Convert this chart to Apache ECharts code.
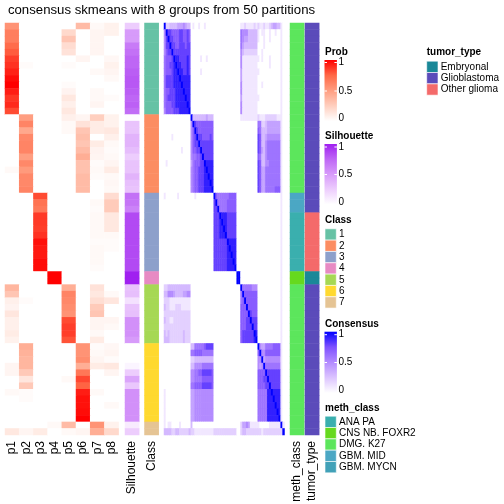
<!DOCTYPE html>
<html><head><meta charset="utf-8">
<script src="https://cdn.jsdelivr.net/npm/echarts@6/dist/echarts.min.js"></script>
<style>html,body{margin:0;padding:0;background:#fff}#c{width:504px;height:504px}</style>
</head><body><div id="c"></div>
<script>
const FONT = '"Liberation Sans", Arial, Helvetica, sans-serif';
const titleText = 'consensus skmeans with 8 groups from 50 partitions';
const probLabels = ['p1','p2','p3','p4','p5','p6','p7','p8'];

// membership probabilities per column (63 samples, top to bottom)
const p1 = [.55,.65,.65,.73,.78,.85,.88,.92,.97,1,.93,.87,.9,.82, 0,0,0,0,0,0,0,0,.03,0,0,0, 0,0,0,0,0,0,0,0,0,0,0,0, 0,0, .38,.3,.08,.06,.13,.08,.08,.1,.07, 0,0,0,.05,.05,0,0,.03,0,0,0,0, 0,.12];
const p2 = [0,0,0,0,0,0,.02,0,0,0,0,0,0,0, .5,.62,.45,.6,.62,.62,.5,.6,.52,.6,.6,.62, 0,0,0,0,0,0,0,0,0,0,0,0, 0,0, 0,0,.02,0,0,0,0,0,0, .42,.4,.38,.38,.28,.13,.28,.02,.02,0,0,0, 0,.05];
const p3 = [0,0,0,0,0,0,0,0,0,0,0,0,0,0, 0,0,0,0,0,0,0,0,0,0,0,0, .82,.7,.67,.86,.86,.85,.88,.96,.94,.94,.97,.97, 0,0, 0,0,0,0,0,0,0,0,0, 0,0,0,0,0,0,0,0,0,0,0,0, 0,.1];
const p4 = [0,0,0,0,0,0,0,0,0,0,0,0,0,0, 0,0,0,0,0,0,0,0,0,0,0,0, 0,0,0,0,0,0,0,0,0,0,0,0, 1,1, 0,0,0,0,0,0,0,0,0, 0,0,0,0,0,0,0,0,0,0,0,0, .03,0];
const p5 = [0,.2,.3,.18,.15,0,.02,0,0,.02,.06,.12,.08,.12, .08,.03,.03,0,0,0,0,0,0,0,0,0, 0,0,0,0,0,0,0,0,0,0,0,0, 0,0, .42,.62,.6,.58,.55,.82,.85,.85,.8, 0,0,0,0,0,.03,0,0,0,0,0,0, .35,.03];
const p6 = [.35,0,0,0,0,.05,0,0,0,0,0,0,0,0, .05,.15,.3,.33,.3,.35,.42,.32,.32,.35,.35,.35, 0,0,0,0,0,0,0,0,0,0,0,0, 0,0, 0,0,0,0,0,0,0,0,0, .55,.55,.58,.42,.68,.83,.76,.93,.96,.96,.97,1, 0,.05];
const p7 = [.03,.05,.05,.05,.05,0,0,.03,0,0,.03,.03,.05,0, .25,.1,.1,0,.1,.06,.05,.02,.03,.02,0,0, 0,.03,.02,.03,.03,.03,.03,.02,.03,.03,.03,.02, 0,0, .15,.12,.17,.27,.3,.05,.05,.03,.1, .02,.03,.05,.1,0,0,0,.03,0,0,0,0, .55,.42];
const p8 = [.07,.07,0,0,0,.04,.07,.05,.03,0,0,.02,0,0, .07,.07,.12,.08,.03,.02,.03,.05,.1,.03,.04,.03, .18,.27,.27,.12,.12,.12,.03,.02,.02,0,0,0, 0,0, 0,.03,.13,0,0,.05,.03,0,0, .04,.05,.02,.12,.05,0,0,0,0,.03,0,0, .07,.2];

const silhouette = [.25,.5,.5,.65,.7,.75,.75,.78,.8,.8,.78,.75,.77,.72, .02,.3,.3,.38,.38,.33,.25,.3,.3,.38,.32,.3, .7,.68,.62,.85,.85,.85,.85,.85,.85,.85,.85,.85, 1,1, .3,.32,.15,.3,.32,.55,.55,.55,.5, 0,0,0,.05,.25,.45,.28,.55,.55,.55,.55,.55, .1,.25];

const classLabels = ['1','2','3','4','5','6','7'];
const classColors = ['#66C2A5','#FC8D62','#8DA0CB','#E78AC3','#A6D854','#FFD92F','#E5C494'];
const sampleClass = [1,1,1,1,1,1,1,1,1,1,1,1,1,1, 2,2,2,2,2,2,2,2,2,2,2,2, 3,3,3,3,3,3,3,3,3,3,3,3, 4,4, 5,5,5,5,5,5,5,5,5, 6,6,6,6,6,6,6,6,6,6,6,6, 7,7];

const methLabels = ['ANA PA','CNS NB. FOXR2','DMG. K27','GBM. MID','GBM. MYCN'];
const methColors = ['#3AAFAE','#66D91E','#5CE65C','#4BA7C4','#41A1B8'];
const sampleMeth = [2,2,2,2,2,2,2,2,2,2,2,2,2,2, 2,2,2,2,2,2,2,2,2,2,2,2, 3,3,3,0,0,0,0,0,0,0,0,0, 1,1, 2,2,2,2,2,2,2,2,2, 2,2,2,2,2,2,2,2,2,2,2,2, 2,2];

const tumorLabels = ['Embryonal','Glioblastoma','Other glioma'];
const tumorColors = ['#1A8898','#5B4BBA','#F46A6A'];
const sampleTumor = [1,1,1,1,1,1,1,1,1,1,1,1,1,1, 1,1,1,1,1,1,1,1,1,1,1,1, 1,1,1,2,2,2,2,2,2,2,2,2, 0,0, 1,1,1,1,1,1,1,1,1, 1,1,1,1,1,1,1,1,1,1,1,1, 1,1];

// consensus matrix, in tenths
const Z2=[0,0], Z9=[0,0,0,0,0,0,0,0,0], Z12=[0,0,0,0,0,0,0,0,0,0,0,0], Z14=[0,0,0,0,0,0,0,0,0,0,0,0,0,0];
const consensus = [
[10,2,2,3,3,3,3,4,4,4,5,4,3,3, 0,1,0,0,1,0,0,1,0,0,0,0, ...Z12, ...Z2, 1,1,2,1,1,1,1,2,1, 2,1,1,2,1,1,2,3,4,4,3,3, 1,0],
[5,10,8,8,7,7,7,7,8,8,7,7,8,7, ...Z12, ...Z12, ...Z2, 6,5,5,5,3,3,3,3,3, 1,0,1,1,0,0,1,0,0,1,0,0, 1,0],
[5,8,10,8,8,7,7,7,8,8,7,7,8,7, ...Z12, ...Z12, ...Z2, 6,5,4,4,3,3,3,3,3, 1,0,0,1,0,0,1,0,0,0,0,0, 1,0],
[5,8,8,10,8,8,7,7,8,8,8,7,8,8, ...Z12, ...Z12, ...Z2, 6,4,3,3,3,3,3,3,3, 0,0,0,1,0,0,0,0,0,0,0,0, 1,0],
[5,7,8,8,10,8,8,8,8,8,8,8,8,8, ...Z12, ...Z12, ...Z2, 5,3,2,2,2,2,2,2,2, 0,0,1,0,0,0,0,0,0,0,0,0, 1,0],
[6,7,7,7,8,10,9,9,8,8,8,8,9,8, 0,0,0,0,0,1,0,0,1,0,0,0, ...Z12, ...Z2, 5,1,1,1,1,1,1,1,1, 1,0,1,0,0,0,1,0,0,0,0,0, 1,0],
[6,7,7,8,8,9,10,9,9,8,8,8,9,8, ...Z12, ...Z12, ...Z2, 5,1,1,1,1,1,1,1,1, 0,0,0,0,0,0,1,0,0,0,0,0, 1,0],
[6,7,7,7,8,9,9,10,9,9,8,8,9,8, 0,0,0,0,0,1,0,0,0,0,0,0, ...Z12, ...Z2, 4,1,1,1,1,1,1,1,1, 1,0,0,0,0,0,0,0,0,0,0,0, 1,0],
[6,8,8,8,8,9,9,9,10,9,9,9,9,9, ...Z12, ...Z12, ...Z2, 4,1,1,1,1,1,1,1,1, ...Z12, 1,0],
[6,8,8,8,8,9,9,9,9,10,9,9,9,9, ...Z12, ...Z12, ...Z2, 5,1,1,1,1,1,1,1,1, 0,0,1,0,0,0,0,0,0,0,0,0, 1,0],
[6,7,7,8,8,8,9,9,9,9,10,9,9,9, ...Z12, ...Z12, ...Z2, 5,1,1,1,1,1,1,1,1, ...Z12, 1,0],
[6,7,8,8,8,8,9,9,9,9,9,10,9,9, ...Z12, ...Z12, ...Z2, 4,1,1,1,1,1,1,1,1, 1,0,0,0,0,0,0,0,0,0,0,0, 1,0],
[6,7,7,7,8,8,9,9,9,9,9,9,10,9, ...Z12, ...Z12, ...Z2, 5,1,1,1,1,1,1,1,1, ...Z12, 1,0],
[5,7,7,7,7,8,8,8,9,9,9,9,9,10, ...Z12, ...Z12, ...Z2, 5,1,1,1,1,1,1,1,1, ...Z12, 1,0],
[...Z14, 10,3,3,3,3,3,3,3,4,3,3,3, ...Z12, ...Z2, 1,1,1,1,1,1,1,1,1, 2,1,1,1,2,2,2,2,2,2,1,1, 1,0],
[...Z14, 5,10,8,7,7,7,7,7,7,7,7,7, ...Z12, ...Z2, ...Z9, 6,6,2,2,3,4,4,4,4,4,4,4, 1,0],
[...Z14, 5,7,10,8,7,7,7,7,7,7,7,7, ...Z12, ...Z2, ...Z9, 7,6,3,3,3,4,4,4,4,4,4,4, 1,0],
[0,0,0,0,1,0,0,0,0,0,0,0,0,0, 5,7,8,10,8,8,7,7,7,7,8,7, ...Z12, ...Z2, ...Z9, 8,7,3,3,4,5,5,5,5,5,5,5, 1,0],
[...Z14, 5,7,8,8,10,8,8,8,8,8,8,8, ...Z12, ...Z2, ...Z9, 8,7,3,3,5,6,6,6,6,6,6,6, 1,0],
[0,0,0,0,0,0,0,0,0,1,0,0,0,0, 5,7,7,8,8,10,8,8,8,8,8,8, ...Z12, ...Z2, ...Z9, 8,7,4,3,5,6,6,6,6,6,6,6, 1,0],
[...Z14, 5,6,6,7,7,8,10,8,8,8,8,8, ...Z12, ...Z2, ...Z9, 7,6,3,3,5,6,6,6,6,6,6,6, 1,0],
[0,1,0,0,0,0,0,0,0,0,0,0,0,0, 4,6,7,7,7,8,8,10,9,9,9,9, ...Z12, ...Z2, ...Z9, 8,7,3,3,5,5,6,6,6,6,6,6, 1,0],
[...Z14, 5,6,7,7,8,8,8,9,10,9,9,9, ...Z12, ...Z2, ...Z9, 8,7,4,4,6,6,6,6,6,6,6,6, 1,0],
[...Z14, 5,6,7,7,8,8,8,9,9,10,9,9, ...Z12, ...Z2, ...Z9, 8,7,4,4,6,6,6,6,6,6,6,6, 1,0],
[...Z14, 5,6,7,7,8,8,8,9,9,9,10,9, ...Z12, ...Z2, ...Z9, 8,7,4,4,6,6,6,6,6,6,6,6, 1,0],
[...Z14, 5,6,7,7,8,8,8,9,9,9,9,10, ...Z12, ...Z2, ...Z9, 8,7,4,4,6,6,6,6,6,7,7,7, 1,0],
[1,0,0,0,0,0,0,1,0,0,0,0,0,0, 0,0,1,0,0,0,0,0,0,0,0,0, 10,7,6,6,6,6,6,6,7,7,7,7, ...Z2, ...Z9, ...Z12, 1,0],
[...Z14, ...Z12, 8,10,6,6,6,6,6,7,7,7,7,7, ...Z2, ...Z9, ...Z12, 1,0],
[...Z14, ...Z12, 8,8,10,6,6,6,6,7,7,7,7,7, ...Z2, ...Z9, ...Z12, 1,0],
[...Z14, ...Z12, 8,8,8,10,9,9,9,8,8,8,8,8, ...Z2, ...Z9, ...Z12, 1,0],
[...Z14, ...Z12, 8,8,8,9,10,9,9,8,8,8,8,8, ...Z2, ...Z9, ...Z12, 1,0],
[...Z14, ...Z12, 8,8,8,9,9,10,9,8,8,8,8,8, ...Z2, ...Z9, ...Z12, 1,0],
[...Z14, ...Z12, 8,8,8,9,9,9,10,8,8,8,8,8, ...Z2, ...Z9, ...Z12, 1,0],
[...Z14, ...Z12, 8,8,8,8,8,8,8,10,9,9,9,9, ...Z2, ...Z9, ...Z12, 1,0],
[...Z14, ...Z12, 8,8,8,8,8,8,8,9,10,9,9,9, ...Z2, ...Z9, ...Z12, 1,0],
[...Z14, ...Z12, 8,8,8,8,8,8,8,9,9,10,9,9, ...Z2, ...Z9, ...Z12, 1,0],
[...Z14, ...Z12, 8,8,8,8,8,8,8,9,9,9,10,9, ...Z2, ...Z9, ...Z12, 1,0],
[...Z14, ...Z12, 8,8,8,8,8,8,8,9,9,9,9,10, ...Z2, ...Z9, ...Z12, 1,0],
[...Z14, ...Z12, ...Z12, 10,10, ...Z9, ...Z12, 1,0],
[...Z14, ...Z12, ...Z12, 10,10, ...Z9, ...Z12, 1,0],
[2,2,3,3,3,3,3,3,3,3,3,3,3,3, ...Z12, ...Z12, ...Z2, 10,6,6,6,6,6,5,5,5, ...Z12, 1,0],
[3,3,5,5,5,4,3,3,3,3,4,4,5,5, ...Z12, ...Z12, ...Z2, 6,10,7,7,7,7,7,7,7, ...Z12, 1,0],
[2,2,2,1,1,1,1,1,1,1,1,1,1,1, ...Z12, ...Z12, ...Z2, 6,7,10,7,7,7,7,7,7, ...Z12, 1,0],
[3,2,2,1,1,1,2,2,2,1,1,1,1,1, ...Z12, ...Z12, ...Z2, 7,7,7,10,7,7,7,7,7, ...Z12, 1,0],
[2,2,2,2,2,2,2,2,2,2,2,2,2,2, ...Z12, ...Z12, ...Z2, 7,7,7,7,10,8,7,7,7, ...Z12, 1,0],
[3,2,2,1,1,2,2,2,2,2,2,2,2,2, ...Z12, ...Z12, ...Z2, 7,7,7,8,8,10,8,8,8, ...Z12, 1,0],
[2,2,2,2,2,2,2,2,2,2,2,2,2,2, ...Z12, ...Z12, ...Z2, 7,7,7,8,8,8,10,8,8, ...Z12, 1,0],
[3,2,3,2,2,2,2,2,2,2,3,2,2,2, ...Z12, ...Z12, ...Z2, 7,8,8,8,8,8,8,10,9, ...Z12, 1,0],
[3,3,3,2,2,2,2,2,2,2,3,2,2,2, ...Z12, ...Z12, ...Z2, 7,8,8,8,8,8,8,9,10, ...Z12, 1,0],
[...Z14, 3,3,6,6,6,6,6,7,8,8,8,8, ...Z12, ...Z2, ...Z9, 10,5,4,4,6,6,6,6,7,7,7,7, 1,0],
[...Z14, 6,6,7,7,7,7,6,6,6,6,6,6, ...Z12, ...Z2, ...Z9, 7,10,5,5,7,7,7,7,7,7,7,7, 1,0],
[...Z14, 2,2,3,3,3,3,3,3,3,3,3,3, ...Z12, ...Z2, ...Z9, 5,5,10,4,5,5,5,5,5,5,5,5, 1,0],
[...Z14, 3,3,5,5,5,5,6,6,6,6,6,6, ...Z12, ...Z2, ...Z9, 5,4,5,10,6,6,6,6,6,6,6,6, 1,0],
[...Z14, 5,5,6,6,7,7,8,8,8,8,8,7, ...Z12, ...Z2, ...Z9, 7,7,7,7,10,8,8,8,8,8,8,8, 1,0],
[...Z14, 5,5,6,6,6,6,7,7,7,7,7,7, ...Z12, ...Z2, ...Z9, 7,7,7,8,8,10,8,8,8,8,8,8, 1,0],
[...Z14, 6,6,7,7,7,7,8,8,8,8,8,7, ...Z12, ...Z2, ...Z9, 7,7,7,7,8,8,10,8,8,8,8,8, 1,0],
[1,0,0,0,0,0,0,0,0,0,0,0,0,0, 4,4,5,5,5,5,5,5,5,5,5,5, ...Z12, ...Z2, ...Z9, 6,6,6,6,6,9,9,10,9,9,9,9, 1,0],
[1,0,0,0,0,0,0,0,0,0,0,0,0,0, 4,4,5,5,5,5,5,5,5,5,5,5, ...Z12, ...Z2, ...Z9, 6,6,6,6,6,9,9,9,10,9,9,9, 1,0],
[1,0,0,0,0,0,0,0,0,0,0,0,0,0, 4,4,5,5,5,5,5,5,5,5,5,5, ...Z12, ...Z2, ...Z9, 6,6,6,6,6,9,9,9,9,10,9,9, 1,0],
[1,0,0,0,0,0,0,0,0,0,0,0,0,0, 4,4,5,5,5,5,5,5,5,5,5,5, ...Z12, ...Z2, ...Z9, 6,6,6,6,6,9,9,9,9,9,10,9, 1,0],
[1,0,0,0,0,0,0,0,0,0,0,0,0,0, 4,4,5,5,5,5,5,5,5,5,5,5, ...Z12, ...Z2, ...Z9, 6,6,6,6,6,9,9,9,9,9,9,10, 1,0],
[1,0,1,1,0,0,0,0,1,0,0,0,0,0, 3,0,0,0,0,0,0,0,0,0,0,0, ...Z12, ...Z2, 2,4,4,5,4,1,1,1,1, 1,0,0,0,0,0,1,1,1,1,1,1, 10,1],
[3,3,3,3,2,2,3,3,2,2,2,2,2,3, 2,2,1,1,1,1,1,1,1,1,1,1, 2,2,2,2,2,2,2,2,2,2,2,2, 0,0, 2,3,3,2,2,2,2,2,2, 2,2,1,2,2,2,2,2,2,2,2,2, 2,10]
];

// colour ramps (white -> colour, LAB-like stops)
const rampProb = ['#FFFFFF','#FFCFBF','#FF9E81','#FF6846','#FF0000'];
const rampSil  = ['#FFFFFF','#EDCDFD','#D79BFA','#BE66F5','#A020F0'];
const rampCons = ['#FFFFFF','#DCC4FF','#B38BFF','#7E51FF','#0000FF'];

const N = sampleClass.length;
const rowIds = sampleClass.map((_, i) => String(i));
const probCols = [p1,p2,p3,p4,p5,p6,p7,p8];

const TOP = 23, H = 412;
const grids = [
  {left:5, top:TOP, width:113.6, height:H},
  {left:125, top:TOP, width:14.2, height:H},
  {left:144.5, top:TOP, width:14.2, height:H},
  {left:164, top:TOP, width:120.5, height:H},
  {left:290, top:TOP, width:14.2, height:H},
  {left:305, top:TOP, width:14.2, height:H}
].map(g => Object.assign({outerBoundsMode:'none', containLabel:false}, g));

const xCats = [probLabels, ['Silhouette'], ['Class'], rowIds, ['meth_class'], ['tumor_type']];
const xAxes = xCats.map((cats, gi) => ({
  type:'category', gridIndex:gi, data:cats, position:'bottom',
  axisLine:{show:false}, axisTick:{show:false}, splitLine:{show:false},
  axisLabel:{show: gi !== 3, rotate:90, interval:0, margin:6, fontSize:12, color:'#000', fontFamily:FONT}
}));
const yAxes = grids.map((g, gi) => ({
  type:'category', gridIndex:gi, data:rowIds, inverse:true, show:false
}));

const probData = [];
for (let r = 0; r < N; r++) for (let c = 0; c < 8; c++) probData.push([c, r, probCols[c][r]]);
const silData = silhouette.map((v, r) => [0, r, v]);
const classData = sampleClass.map((v, r) => [0, r, v]);
const consData = [];
for (let r = 0; r < N; r++) for (let c = 0; c < N; c++) consData.push([c, r, consensus[r][c] / 10]);
const methData = sampleMeth.map((v, r) => [0, r, v]);
const tumorData = sampleTumor.map((v, r) => [0, r, v]);

function hm(gi, data) {
  return {type:'heatmap', xAxisIndex:gi, yAxisIndex:gi, data, progressive:0, animation:false,
    emphasis:{disabled:true}, itemStyle:{borderWidth:0}};
}
const series = [hm(0, probData), hm(1, silData), hm(2, classData), hm(3, consData), hm(4, methData), hm(5, tumorData)];

const visualMap = [
  {type:'continuous', show:false, seriesIndex:0, dimension:2, min:0, max:1, inRange:{color:rampProb}},
  {type:'continuous', show:false, seriesIndex:1, dimension:2, min:0, max:1, inRange:{color:rampSil}},
  {type:'piecewise', show:false, seriesIndex:2, dimension:2, pieces: classColors.map((c, i) => ({value:i+1, color:c}))},
  {type:'continuous', show:false, seriesIndex:3, dimension:2, min:0, max:1, inRange:{color:rampCons}},
  {type:'piecewise', show:false, seriesIndex:4, dimension:2, pieces: methColors.map((c, i) => ({value:i, color:c}))},
  {type:'piecewise', show:false, seriesIndex:5, dimension:2, pieces: tumorColors.map((c, i) => ({value:i, color:c}))}
];

// legends
const G = [];
function txt(x, y, s, bold, align) {
  G.push({type:'text', x, y, silent:true, style:{text:s, fill:'#000', fontSize:10,
    fontWeight: bold ? 'bold' : 'normal', fontFamily:FONT,
    align: align || 'left', verticalAlign:'middle', textAlign: align || 'left', textVerticalAlign:'middle'}});
}
function gradLegend(title, titleY, barTop, labY, ramp) {
  txt(325, titleY, title, true);
  const stops = ramp.slice().reverse().map((c, i) => ({offset: i / (ramp.length - 1), color: c}));
  const barBot = labY[2] + 2.5;
  G.push({type:'rect', silent:true, shape:{x:324.5, y:barTop, width:12.4, height:barBot - barTop},
    style:{fill: new echarts.graphic.LinearGradient(0, 0, 0, 1, stops)}});
  [labY[0], labY[1]].forEach(y => {
    G.push({type:'line', silent:true, shape:{x1:324.5, y1:y, x2:327, y2:y}, style:{stroke:'#fff', lineWidth:1}});
    G.push({type:'line', silent:true, shape:{x1:334.4, y1:y, x2:336.9, y2:y}, style:{stroke:'#fff', lineWidth:1}});
  });
  txt(338.5, labY[0], '1'); txt(338.5, labY[1], '0.5'); txt(338.5, labY[2], '0');
}
function catLegend(title, x, titleY, firstY, labels, colors) {
  txt(x, titleY, title, true);
  labels.forEach((l, i) => {
    const y = firstY + i * 11.33;
    G.push({type:'rect', silent:true, shape:{x:x, y:y, width:11.3, height:11.3},
      style:{fill:colors[i], stroke:'rgba(255,255,255,0.6)', lineWidth:1}});
    txt(x + 14, y + 5.65, l);
  });
}
gradLegend('Prob', 52, 60, [62.5, 91, 118.7], rampProb);
gradLegend('Silhouette', 136, 144, [147, 174.5, 202], rampSil);
catLegend('Class', 325, 220, 228.8, classLabels, classColors);
gradLegend('Consensus', 324, 331.7, [334.7, 362.5, 390.5], rampCons);
catLegend('meth_class', 325, 408, 416.2, methLabels, methColors);
catLegend('tumor_type', 426.7, 52, 61.2, tumorLabels, tumorColors);

G.push({type:'text', x:161.5, y:10, silent:true, style:{text:titleText, fill:'#000', fontSize:13.2, fontFamily:FONT,
  align:'center', verticalAlign:'middle', textAlign:'center', textVerticalAlign:'middle'}});

const chart = echarts.init(document.getElementById('c'), null, {renderer:'canvas'});
chart.setOption({
  animation:false,
  backgroundColor:'#fff',
  grid: grids, xAxis: xAxes, yAxis: yAxes, series, visualMap, graphic: G
});
</script>
</body></html>
